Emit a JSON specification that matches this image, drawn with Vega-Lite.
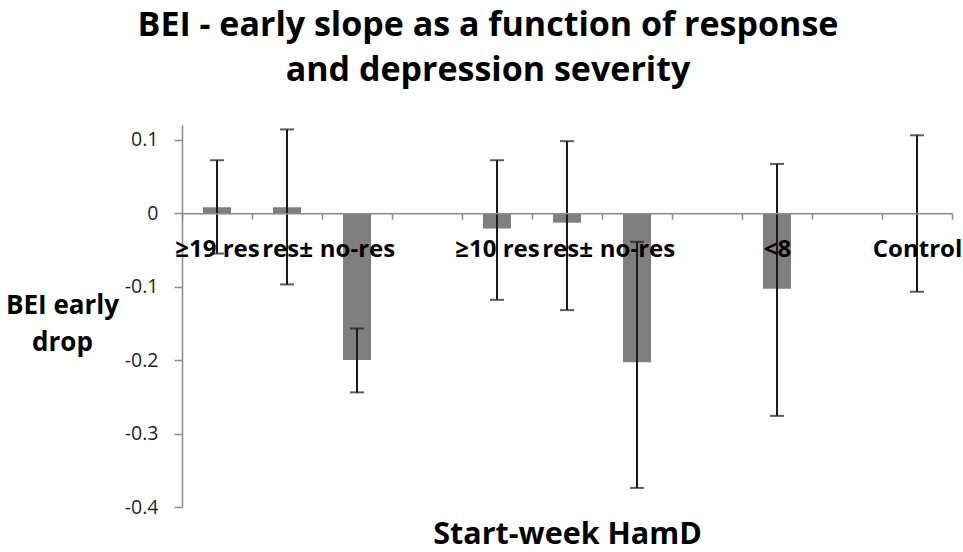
{
  "$schema": "https://vega.github.io/schema/vega-lite/v6.json",
  "width": 770,
  "height": 382,
  "autosize": {"type": "none"},
  "padding": {"left": 182, "top": 125, "right": 11, "bottom": 45},
  "background": "white",
  "title": {
    "text": ["BEI - early slope as a function of response", "and depression severity"],
    "font": "Open Sans",
    "fontSize": 34,
    "fontWeight": "bold",
    "color": "#000000",
    "anchor": "middle",
    "frame": "group",
    "dx": -79,
    "lineHeight": 45,
    "offset": 37
  },
  "data": {
    "values": [
      {"slot": 1, "group": "≥19 res", "slope": 0.008, "lo": -0.055, "hi": 0.072},
      {"slot": 2, "group": "res±", "slope": 0.008, "lo": -0.097, "hi": 0.114},
      {"slot": 3, "group": "no-res", "slope": -0.2, "lo": -0.244, "hi": -0.157},
      {"slot": 5, "group": "≥10 res", "slope": -0.021, "lo": -0.118, "hi": 0.072},
      {"slot": 6, "group": "res±", "slope": -0.013, "lo": -0.132, "hi": 0.098},
      {"slot": 7, "group": "no-res", "slope": -0.203, "lo": -0.374, "hi": -0.039},
      {"slot": 9, "group": "<8", "slope": -0.103, "lo": -0.276, "hi": 0.067},
      {"slot": 11, "group": "Control", "slope": 0, "lo": -0.107, "hi": 0.106}
    ]
  },
  "encoding": {
    "x": {
      "field": "slot",
      "type": "ordinal",
      "scale": {"domain": [1, 2, 3, 4, 5, 6, 7, 8, 9, 10, 11], "paddingInner": 0, "paddingOuter": 0},
      "axis": {
        "orient": "bottom",
        "offset": -293.85,
        "zindex": 1,
        "tickBand": "extent",
        "tickSize": 6,
        "tickColor": "#8c8c8c",
        "tickWidth": 1.5,
        "domainColor": "#8c8c8c",
        "domainWidth": 1.5,
        "labelAngle": 0,
        "labelFont": "Open Sans",
        "labelFontSize": 24,
        "labelFontWeight": "bold",
        "labelColor": "#000000",
        "labelPadding": 18,
        "labelExpr": "['≥19 res', 'res±', 'no-res', '', '≥10 res', 'res±', 'no-res', '', '<8', '', 'Control'][datum.value - 1]",
        "title": "Start-week HamD",
        "titleFont": "Open Sans",
        "titleFontSize": 30.5,
        "titleFontWeight": "bold",
        "titleColor": "#000000",
        "titleBaseline": "middle",
        "titleY": 321
      }
    }
  },
  "layer": [
    {
      "mark": {"type": "bar", "color": "#7f7f7f", "width": {"band": 0.4}},
      "encoding": {
        "y": {
          "field": "slope",
          "type": "quantitative",
          "scale": {"domain": [-0.4, 0.12], "nice": false, "zero": false},
          "axis": {
            "values": [-0.4, -0.3, -0.2, -0.1, 0, 0.1],
            "labelExpr": "toString(round(datum.value * 10) / 10)",
            "grid": false,
            "tickSize": 8,
            "tickColor": "#8c8c8c",
            "tickWidth": 1.5,
            "domainColor": "#8c8c8c",
            "domainWidth": 1.5,
            "labelFont": "Open Sans",
            "labelFontSize": 19.5,
            "labelColor": "#1f1f2e",
            "labelPadding": 16,
            "title": ["BEI early", "drop"],
            "titleFont": "Open Sans",
            "titleFontSize": 26,
            "titleFontWeight": "bold",
            "titleColor": "#000000",
            "titleAngle": 0,
            "titleAlign": "center",
            "titleBaseline": "middle",
            "titleLineHeight": 37,
            "titleX": -120,
            "titleY": 180
          }
        }
      }
    },
    {
      "mark": {"type": "errorbar", "color": "#1a1a1a", "thickness": 2, "ticks": {"size": 14}},
      "encoding": {
        "y": {"field": "lo", "type": "quantitative", "axis": null},
        "y2": {"field": "hi"}
      }
    }
  ],
  "resolve": {"axis": {"y": "independent"}},
  "config": {
    "view": {"stroke": null}
  }
}
